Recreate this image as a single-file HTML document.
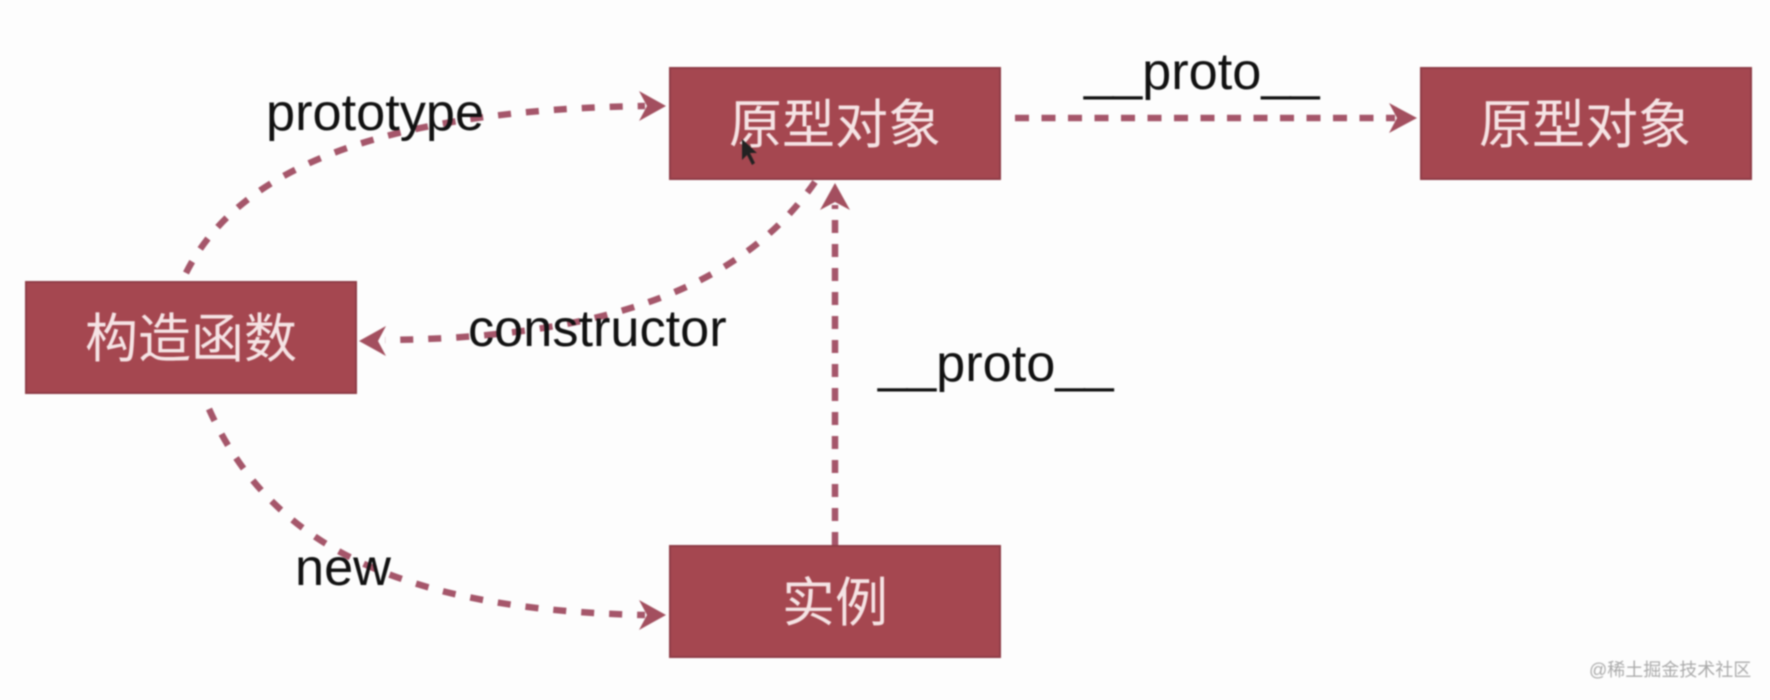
<!DOCTYPE html>
<html><head><meta charset="utf-8"><style>
html,body{margin:0;padding:0;background:#fdfdfd;width:1770px;height:700px;overflow:hidden}
svg{display:block;filter:blur(.8px)}
.b{fill:#a54750;stroke:#8f3c46;stroke-width:2}
.c{font-family:"Liberation Sans","Noto Sans CJK SC",sans-serif;font-size:53px;fill:#f5e3e4;text-anchor:middle;font-weight:400}
.l{font-family:"Liberation Sans",sans-serif;font-size:52.3px;fill:#111}
.d{fill:none;stroke:#a5566a;stroke-width:6.5;stroke-dasharray:13 15}
.a{fill:#a34f5f}
</style></head><body>
<svg width="1770" height="700" viewBox="0 0 1770 700" xmlns="http://www.w3.org/2000/svg">
<rect width="1770" height="700" fill="#fdfdfd"/>
<path class="d" d="M186 273C240 165 390 110 645 106"/>
<path class="d" d="M815 182C740 290 600 338 385 340"/>
<path class="d" d="M209 409C270 545 400 610 645 615"/>
<path class="d" style="stroke-dasharray:13 11" d="M835 545V205"/>
<path class="d" style="stroke-dasharray:14 12.5" d="M1015 118H1395"/>
<path class="a" d="M666 106L639 91L647 106L639 121Z"/>
<path class="a" d="M359 341L386 326L378 341L386 356Z"/>
<path class="a" d="M666 615L639 600L647 615L639 630Z"/>
<path class="a" d="M835 183L820 210L835 202L850 210Z"/>
<path class="a" d="M1417 118L1389 103L1397 118L1389 133Z"/>
<rect class="b" x="670" y="68" width="330" height="111"/>
<rect class="b" x="1421" y="68" width="330" height="111"/>
<rect class="b" x="26" y="282" width="330" height="111"/>
<rect class="b" x="670" y="546" width="330" height="111"/>
<text class="c" x="835" y="143">原型对象</text>
<text class="c" x="1585" y="143">原型对象</text>
<text class="c" x="191" y="357">构造函数</text>
<text class="c" x="835" y="621">实例</text>
<text class="l" x="266" y="130">prototype</text>
<text class="l" x="468" y="346">constructor</text>
<text class="l" x="1084" y="89">__proto__</text>
<text class="l" x="878" y="381">__proto__</text>
<text class="l" x="295" y="585">new</text>
<path d="M742 139L742 160L747 155L752 165L755 163L750 153L757 153Z" fill="#222"/>
<text x="1589" y="676" font-family="'Liberation Sans','Noto Sans CJK SC',sans-serif" font-size="18" fill="#aaa">@稀土掘金技术社区</text>
</svg>
</body></html>
